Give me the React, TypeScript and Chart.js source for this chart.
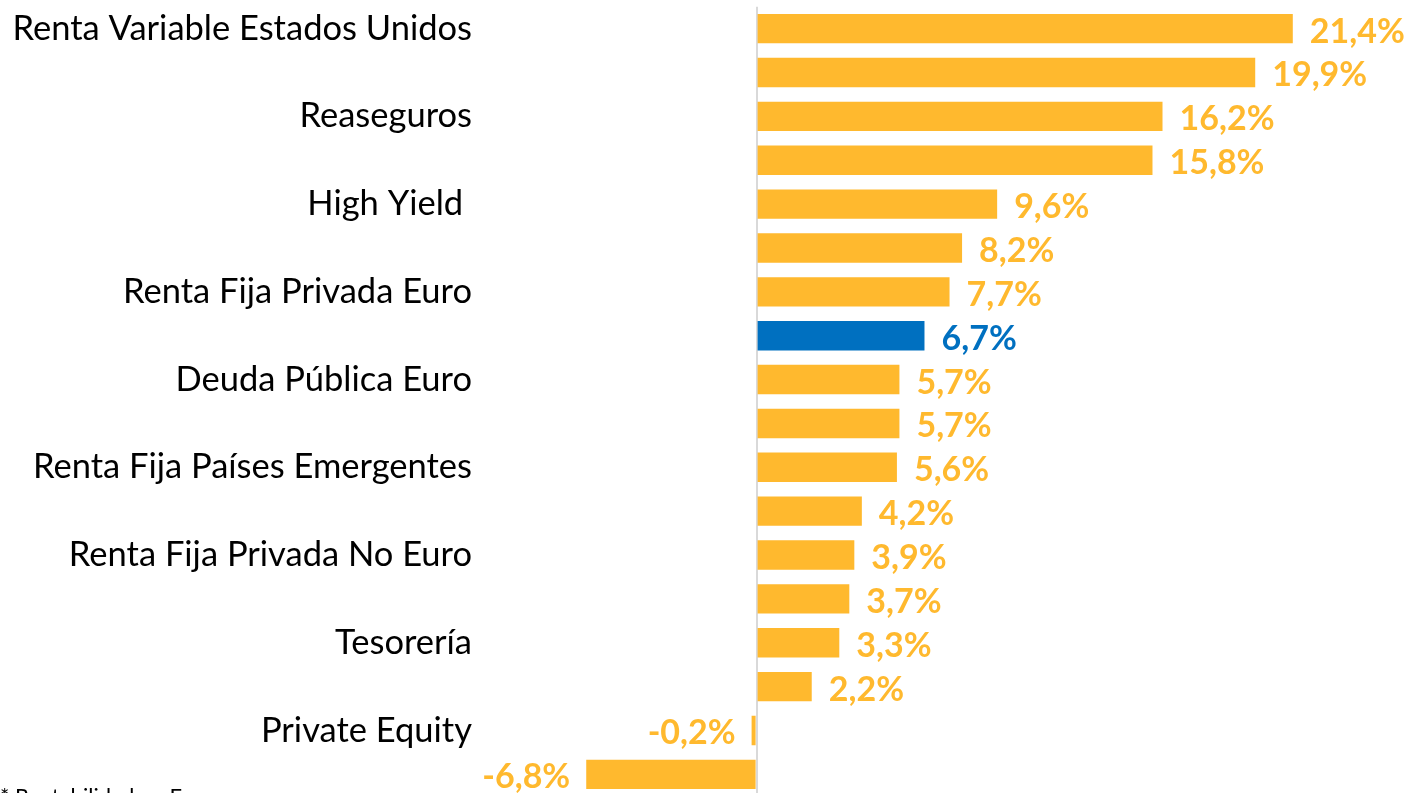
import React, { useEffect, useRef } from "react";
import { Chart, registerables } from "chart.js";

Chart.register(...registerables);

const categories: string[] = [
  "Renta Variable Estados Unidos",
  "",
  "Reaseguros",
  "",
  "High Yield ",
  "",
  "Renta Fija Privada Euro",
  "",
  "Deuda Pública Euro",
  "",
  "Renta Fija Países Emergentes",
  "",
  "Renta Fija Privada No Euro",
  "",
  "Tesorería",
  "",
  "Private Equity",
  "",
];

const values: number[] = [21.4, 19.9, 16.2, 15.8, 9.6, 8.2, 7.7, 6.7, 5.7, 5.7, 5.6, 4.2, 3.9, 3.7, 3.3, 2.2, -0.2, -6.8];

const highlightIndex = 7;
const ORANGE = "#FFB92E";
const BLUE = "#0070C0";
const footnote = "* Rentabilidad en Euros";

const fmt = (v: number) => v.toFixed(1).replace(".", ",") + "%";

const labelPlugin = {
  id: "barValueLabels",
  afterDatasetsDraw(chart: any) {
    const ctx = chart.ctx;
    const meta = chart.getDatasetMeta(0);
    ctx.save();
    ctx.font = "bold 34px Lato";
    ctx.textBaseline = "middle";
    meta.data.forEach((el: any, i: number) => {
      const v = values[i];
      ctx.fillStyle = i === highlightIndex ? BLUE : ORANGE;
      if (v >= 0) {
        ctx.textAlign = "left";
        ctx.fillText(fmt(v), el.x + 17, el.y + 3);
      } else {
        ctx.textAlign = "right";
        ctx.fillText(fmt(v), el.x - 16, el.y + 3);
      }
    });
    ctx.restore();
  },
};

export default function App() {
  const ref = useRef<HTMLCanvasElement | null>(null);
  useEffect(() => {
    if (!ref.current) return;
    const chart = new Chart(ref.current, {
      type: "bar",
      data: {
        labels: categories,
        datasets: [
          {
            data: values,
            backgroundColor: values.map((_, i) => (i === highlightIndex ? BLUE : ORANGE)),
            barPercentage: 0.67,
            categoryPercentage: 1,
          },
        ],
      },
      options: {
        indexAxis: "y",
        animation: false,
        responsive: false,
        maintainAspectRatio: false,
        layout: { padding: { top: 7, bottom: 0, right: 37, left: 0 } },
        plugins: { legend: { display: false }, tooltip: { enabled: false } },
        scales: {
          x: {
            min: -11,
            max: 25,
            ticks: { display: false, stepSize: 1 },
            border: { display: false },
            grid: {
              drawTicks: false,
              lineWidth: 2,
              color: (c: any) => (c.tick && c.tick.value === 0 ? "#D9D9D9" : "rgba(0,0,0,0)"),
            },
          },
          y: {
            afterFit: (scale: any) => {
              scale.width = 481;
            },
            border: { display: false },
            grid: { display: false, drawTicks: false },
            ticks: {
              autoSkip: false,
              padding: 9,
              color: "#000000",
              font: { family: "Lato", size: 34.5 },
            },
          },
        },
      },
      plugins: [labelPlugin],
    });
    return () => chart.destroy();
  }, []);
  return (
    <div style={{ position: "fixed", left: 0, top: 0, width: 1420, height: 793, overflow: "hidden", background: "#fff" }}>
      <canvas
        ref={ref}
        width={1420}
        height={849}
        style={{ display: "block", position: "absolute", left: 0, top: -23 }}
      />
      <div
        style={{
          position: "absolute",
          left: 0,
          top: 783,
          fontFamily: "Lato",
          fontSize: 22,
          lineHeight: 1.2,
          color: "#000",
          whiteSpace: "nowrap",
        }}
      >
        {footnote}
      </div>
    </div>
  );
}
